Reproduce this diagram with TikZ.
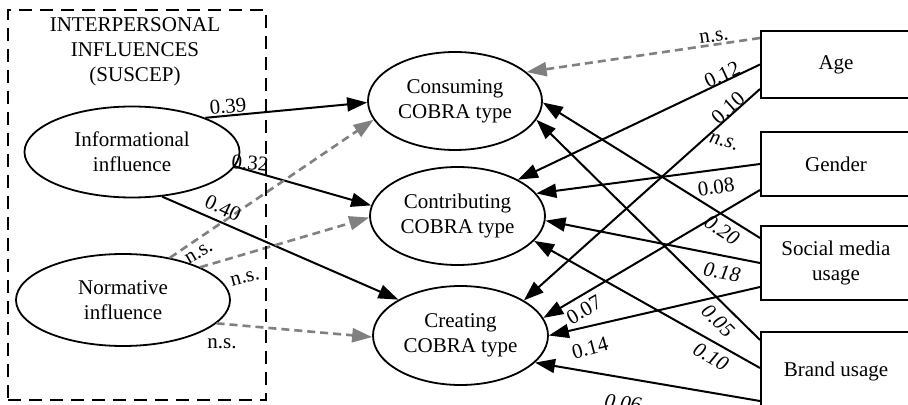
\documentclass[tikz,border=0pt]{standalone}
\usepackage{fontspec}
\setmainfont{Liberation Serif}
\usetikzlibrary{shapes.geometric,arrows.meta}
\begin{document}
\begin{tikzpicture}[x=0.5pt,y=-0.5pt,
  font=\fontsize{10.5}{12.5}\selectfont,
  ell/.style={ellipse, draw, line width=0.9pt, inner sep=0pt, align=center},
  box/.style={rectangle, draw, line width=1pt, inner sep=0pt, align=center, minimum width=75pt},
  sol/.style={line width=1pt, -{Triangle[length=10pt,width=7pt]}},
  nsd/.style={draw=gray, line width=1.3pt, dash pattern=on 4pt off 2.5pt, -{Triangle[length=10pt,width=7pt]}},
  lab/.style={inner sep=0pt},
  grpbox/.style={draw, line width=1.4pt, dash pattern=on 6.5pt off 4pt, inner sep=0pt}
]
\fill[white] (0,0) rectangle (908,405);
\useasboundingbox (0,0) rectangle (908,405);
\clip (0,0) rectangle (908,405);

% title
\node[align=center, inner sep=0pt] (ttl) at (135,52) {INTERPERSONAL\\INFLUENCES\\(SUSCEP)};

% ellipses
\node[ell, minimum width=107.5pt, minimum height=45.5pt] (info) at (132,152) {Informational\\influence};
\node[ell, minimum width=107pt, minimum height=46pt] (norm) at (123,300) {Normative\\influence};
\node[ell, minimum width=87pt, minimum height=49pt] (cons) at (455,101) {Consuming\\COBRA type};
\node[ell, minimum width=87.5pt, minimum height=49pt] (contr) at (457.5,216) {Contributing\\COBRA type};
\node[ell, minimum width=87.5pt, minimum height=49.5pt] (creat) at (460.5,335.5) {Creating\\COBRA type};

% boxes
\node[box, minimum height=33.5pt] (age) at (836,64.5) {Age};
\node[box, minimum height=32pt] (gender) at (836,164) {Gender};
\node[box, minimum height=37pt] (social) at (836,263) {Social media\\usage};
\node[box, minimum height=39pt] (brand) at (836,371) {Brand usage};

% left edges
\draw[sol] (info.25) -- (cons.181);
\draw[sol] (info.-8) -- (contr.173);
\draw[sol] (info.-56) -- (creat.150);
\draw[nsd] (norm.42) -- (cons.193);
\draw[nsd] (norm.23) -- (contr.181);
\draw[nsd] (norm.-14) -- (creat.181);

% right edges
\draw[nsd] ([yshift=13.25pt]age.west) -- (cons.22);
\draw[sol] (age.west) -- (contr.31);
\draw[sol] ([yshift=-12.25pt]age.west) -- (creat.29);
\draw[sol] (gender.west) -- (contr.16);
\draw[sol] ([yshift=-13pt]gender.west) -- (creat.12);
\draw[sol] ([yshift=12.5pt]social.west) -- (cons.-1);
\draw[sol] (social.west) -- (contr.-3);
\draw[sol] ([yshift=-12pt]social.west) -- (creat.0);
\draw[sol] ([yshift=15.5pt]brand.west) -- (cons.-13);
\draw[sol] ([yshift=1.5pt]brand.west) -- (contr.-18);
\draw[sol] ([yshift=-15pt]brand.west) -- (creat.-20);

% labels
\node[lab, rotate=5] (l1) at (228,106) {0.39};
\node[lab, rotate=-5] (l2) at (250,163) {0.32};
\node[lab, rotate=-25] (l3) at (223,208) {0.40};
\node[lab, rotate=30] (l4) at (199,253) {n.s.};
\node[lab, rotate=15] (l5) at (245,278) {n.s.};
\node[lab] (l6) at (222,344) {n.s.};
\node[lab, rotate=8] (l7) at (714,37) {n.s.};
\node[lab, rotate=25] (l8) at (722,75) {0.12};
\node[lab, rotate=42] (l9) at (728,108) {0.10};
\node[lab, rotate=-15, font=\fontsize{10.5}{12.5}\selectfont\itshape] (l10) at (724,142) {n.s.};
\node[lab, rotate=8] (l11) at (716,187) {0.08};
\node[lab, rotate=-33, font=\fontsize{10.5}{12.5}\selectfont\itshape] (l12) at (722,230) {0.20};
\node[lab, rotate=-10, font=\fontsize{10.5}{12.5}\selectfont\itshape] (l13) at (722,272) {0.18};
\node[lab, rotate=-45, font=\fontsize{10.5}{12.5}\selectfont\itshape] (l14) at (718,321) {0.05};
\node[lab, rotate=-30, font=\fontsize{10.5}{12.5}\selectfont\itshape] (l15) at (711,357) {0.10};
\node[lab, rotate=30] (l16) at (584,310) {0.07};
\node[lab, rotate=15] (l17) at (590,348) {0.14};
\node[lab, rotate=-8, font=\fontsize{10.5}{12.5}\selectfont\itshape] (l18) at (623,403) {0.06};

% group frame
\node[grpbox, minimum width=129pt, minimum height=195pt] (grp) at (137,205) {};
\end{tikzpicture}
\end{document}
